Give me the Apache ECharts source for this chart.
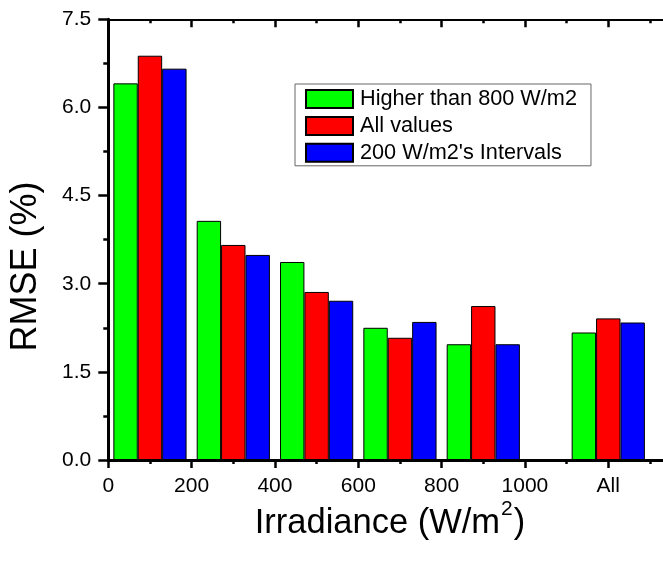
<!DOCTYPE html>
<html>
<head>
<meta charset="utf-8">
<title>RMSE by irradiance range</title>
<script src="https://cdn.jsdelivr.net/npm/echarts@6/dist/echarts.min.js"></script>
<style>
  html, body { margin: 0; padding: 0; background: #fff; }
  #chart { width: 663px; height: 561px; }
</style>
</head>
<body>
<div id="chart"></div>
<script>
// Group centres on the irradiance axis (W/m2); the last group is the overall result
const groupCenters = [100, 300, 500, 700, 900, 1200];

// RMSE (%) per irradiance interval for each fitting approach
const higherThan800 = [6.41, 4.07, 3.37, 2.25, 1.97, 2.17];
const allValues     = [6.88, 3.66, 2.86, 2.08, 2.62, 2.41];
const intervals200  = [6.66, 3.49, 2.71, 2.35, 1.97, 2.34];

const seriesNames = ['Higher than 800 W/m2', 'All values', "200 W/m2's Intervals"];

// Tick positions and the text shown under each
const xTickValues = [0, 200, 400, 600, 800, 1000, 1200];
const xTickLabels = ['0', '200', '400', '600', '800', '1000', 'All'];

const FONT = '"Liberation Sans", Arial, Helvetica, sans-serif';

const chart = echarts.init(document.getElementById('chart'), null, { renderer: 'canvas' });

function pairs(values) {
  return values.map((v, i) => [groupCenters[i], v]);
}

function barSeries(name, values, color) {
  return {
    name: name,
    type: 'bar',
    data: pairs(values),
    barWidth: 24.4,
    barGap: '0%',
    itemStyle: { color: color, borderColor: '#000', borderWidth: 1 },
    emphasis: { disabled: true }
  };
}

const xLabelFor = (v) => {
  const i = xTickValues.indexOf(v);
  return i >= 0 ? xTickLabels[i] : '';
};

const option = {
  backgroundColor: '#fff',
  animation: false,
  textStyle: { fontFamily: FONT },
  // the plot frame runs past the right edge of the canvas
  grid: {
    left: 108.3, top: 19.3, width: 583.3, height: 440.7,
    containLabel: false, outerBoundsMode: 'none'
  },
  legend: {
    orient: 'vertical',
    left: 295,
    top: 84,
    data: seriesNames,
    icon: 'rect',
    itemWidth: 47,
    itemHeight: 18,
    itemGap: 4.9,
    padding: [4, 14, 2, 10],
    borderColor: '#666',
    borderWidth: 1,
    backgroundColor: '#fff',
    selectedMode: false,
    textStyle: { fontFamily: FONT, fontSize: 21.7, color: '#000', padding: [0, 0, 0, 2] }
  },
  xAxis: [
    {
      type: 'value',
      position: 'bottom',
      min: 0, max: 1400, interval: 200,
      axisLine: { show: true, onZero: false, lineStyle: { color: '#000', width: 3 } },
      axisTick: { show: true, inside: false, length: 8, lineStyle: { color: '#000', width: 2.5 } },
      minorTick: { show: true, splitNumber: 2, length: 4, lineStyle: { color: '#000', width: 2.5 } },
      splitLine: { show: false },
      axisLabel: {
        show: true, margin: 16, fontSize: 21, color: '#000', fontFamily: FONT,
        formatter: xLabelFor
      }
    },
    {
      type: 'value',
      position: 'top',
      min: 0, max: 1400, interval: 200,
      axisLine: { show: true, onZero: false, lineStyle: { color: '#000', width: 2 } },
      axisTick: { show: true, inside: true, length: 8, lineStyle: { color: '#000', width: 2.5 } },
      minorTick: { show: true, splitNumber: 2, length: 4, lineStyle: { color: '#000', width: 2.5 } },
      splitLine: { show: false },
      axisLabel: { show: false }
    }
  ],
  yAxis: {
    type: 'value',
    min: 0, max: 7.5, interval: 1.5,
    axisLine: { show: true, onZero: false, lineStyle: { color: '#000', width: 3 } },
    axisTick: { show: true, inside: false, length: 10, lineStyle: { color: '#000', width: 2.5 } },
    minorTick: { show: true, splitNumber: 2, length: 5, lineStyle: { color: '#000', width: 2.5 } },
    splitLine: { show: false },
    axisLabel: {
      margin: 17, fontSize: 21, color: '#000', fontFamily: FONT,
      formatter: (v) => v.toFixed(1)
    }
  },
  graphic: [
    {
      type: 'text',
      x: 26, y: 266.5,
      rotation: Math.PI / 2,
      style: {
        text: 'RMSE (%)',
        font: '36px ' + FONT,
        fill: '#000',
        textAlign: 'center',
        textVerticalAlign: 'middle'
      },
      silent: true
    },
    {
      type: 'text',
      x: 390, y: 523,
      style: {
        text: '{m|Irradiance (W/m}{s|2}{m|)}',
        rich: {
          m: { font: '34.5px ' + FONT, fill: '#000' },
          s: { font: '21px ' + FONT, fill: '#000', verticalAlign: 'bottom', padding: [0, 1, 28, 1] }
        },
        textAlign: 'center',
        textVerticalAlign: 'middle'
      },
      silent: true
    }
  ],
  series: [
    barSeries(seriesNames[0], higherThan800, '#00ff00'),
    barSeries(seriesNames[1], allValues, '#ff0000'),
    barSeries(seriesNames[2], intervals200, '#0000ff')
  ]
};

chart.setOption(option);
</script>
</body>
</html>
